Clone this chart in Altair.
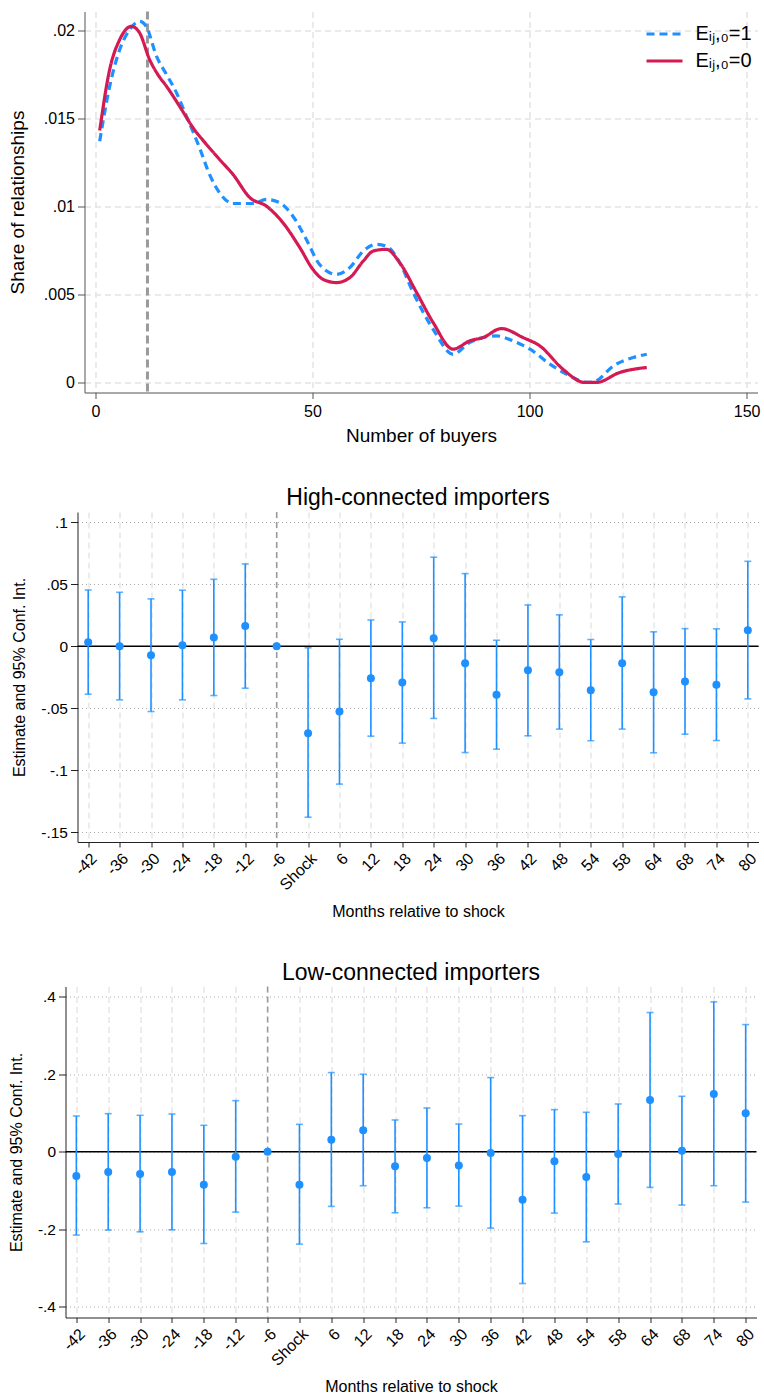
import altair as alt
import pandas as pd

# ---------------- Top panel: share of relationships by number of buyers ----------------
buyers_e1 = [1, 3.3, 5.6, 7.9, 10.2, 11.7, 14.1, 16.4, 18.7, 21, 24, 26.3, 28.6, 31.7, 36.3, 39.4,
             42.5, 45.5, 48.6, 51.6, 55.5, 58.6, 61.7, 64.7, 67, 70.1, 73.2, 77.8, 82.4, 86.2, 92.4,
             96.2, 100.1, 104.7, 108.5, 113.5, 115.4, 119.3, 123.9, 127]
share_e1 = [0.0137, 0.01681, 0.01889, 0.02003, 0.0205, 0.02022, 0.01851, 0.01748, 0.01644, 0.01511,
            0.01332, 0.01181, 0.01077, 0.01016, 0.01016, 0.01039, 0.0102, 0.00944, 0.00812, 0.00671,
            0.00614, 0.00652, 0.00746, 0.00784, 0.00774, 0.0068, 0.0051, 0.00302, 0.0016, 0.00227,
            0.00264, 0.00236, 0.00189, 0.00104, 0.00047, 0.0, 0.0001, 0.00094, 0.00142, 0.0016]

buyers_e0 = [1, 3.3, 5.6, 8.3, 10.2, 12.5, 14.4, 16.4, 19.4, 22.5, 25.6, 28.6, 31.7, 35.6, 39.4,
             43.2, 47.1, 50.1, 52.4, 55.5, 58.6, 61.7, 64, 67, 70.1, 74, 77.8, 82.4, 86.2, 89.3, 93.5,
             98.5, 102.4, 107.7, 112.7, 115.4, 120.8, 127]
share_e0 = [0.0143, 0.01777, 0.01946, 0.02022, 0.01984, 0.01833, 0.01748, 0.01681, 0.01568, 0.01446,
            0.01351, 0.01266, 0.01181, 0.01049, 0.01001, 0.00907, 0.00765, 0.00642, 0.00586, 0.00567,
            0.00595, 0.00689, 0.00746, 0.00756, 0.0068, 0.0051, 0.0034, 0.00189, 0.00236, 0.00255,
            0.00306, 0.00255, 0.00207, 0.00075, 0.0, 0.0, 0.00057, 0.00085]

series_labels = ["E\u1d62\u2c7c,\u2080=1", "E\u1d62\u2c7c,\u2080=0"]
cutoff_buyers = [12]
top_x_ticks = [0, 50, 100, 150]
top_y_ticks = [0, 0.005, 0.01, 0.015, 0.02]

# ---------------- Event-study panels ----------------
months = ["-42", "-36", "-30", "-24", "-18", "-12", "-6", "Shock", "6", "12", "18", "24",
          "30", "36", "42", "48", "54", "58", "64", "68", "74", "80"]
shock_ref = ["-6"]

high_est = [0.0032, 0.0, -0.0073, 0.0008, 0.007, 0.0164, 0.0, -0.0702, -0.0527, -0.0258, -0.0293,
            0.0065, -0.0137, -0.0392, -0.0194, -0.021, -0.0355, -0.0137, -0.0371, -0.0285, -0.0312, 0.0129]
high_hi = [0.0454, 0.0435, 0.0382, 0.0452, 0.054, 0.0664, None, -0.0013, 0.0056, 0.0212, 0.0196,
           0.0718, 0.0586, 0.0048, 0.0333, 0.0253, 0.0054, 0.0398, 0.0116, 0.0142, 0.014, 0.0685]
high_lo = [-0.0387, -0.0433, -0.0527, -0.0433, -0.0398, -0.0339, None, -0.138, -0.1113, -0.0726, -0.0782,
           -0.0583, -0.0858, -0.0831, -0.0723, -0.0669, -0.0763, -0.0669, -0.086, -0.071, -0.0761, -0.0425]

low_est = [-0.0628, -0.0525, -0.0576, -0.0525, -0.0852, -0.0129, 0.0, -0.0852, 0.031, 0.055, -0.0378,
           -0.0163, -0.0353, -0.0034, -0.1239, -0.0249, -0.0654, -0.006, 0.1333, 0.0026, 0.1488, 0.0989]
low_hi = [0.092, 0.098, 0.0938, 0.0972, 0.068, 0.1316, None, 0.0705, 0.2039, 0.1996, 0.0817,
          0.1127, 0.0714, 0.191, 0.0929, 0.1084, 0.1015, 0.123, 0.3587, 0.1428, 0.3862, 0.3277]
low_lo = [-0.215, -0.202, -0.2065, -0.2013, -0.2366, -0.1557, None, -0.2383, -0.141, -0.0877, -0.1574,
          -0.1445, -0.1402, -0.197, -0.3398, -0.1583, -0.2323, -0.135, -0.092, -0.1376, -0.0877, -0.1299]

high_y_ticks = [-0.15, -0.1, -0.05, 0, 0.05, 0.1]
low_y_ticks = [-0.4, -0.2, 0, 0.2, 0.4]

FONT = "Liberation Sans"
BLUE = "#1E90FF"
RED = "#D41A52"
GRAY = "#9a9a9a"

stata_num = ("datum.value == 0 ? '0' : (datum.value < 0 ? '-' : '') + "
             "substring(format(abs(datum.value), ''), 1)")

# ---------------- Top chart ----------------
top_df = pd.concat([
    pd.DataFrame({"buyers": buyers_e1, "share": share_e1, "series": series_labels[0]}),
    pd.DataFrame({"buyers": buyers_e0, "share": share_e0, "series": series_labels[1]}),
], ignore_index=True)

tx = alt.Scale(domain=[-2.5, 152.5], nice=False, zero=False)
ty = alt.Scale(domain=[-0.00057, 0.02106], nice=False, zero=False)

top_grid = dict(grid=True, gridColor="#e4e4e4", gridDash=[6, 4], gridWidth=1.5)

x_top = alt.X("buyers:Q", scale=tx, axis=alt.Axis(
    values=top_x_ticks, title="Number of buyers", format="d", labelFontSize=16,
    titleFontSize=19, tickSize=6, labelPadding=5, titlePadding=7,
    domainColor="#555555", tickColor="#555555", **top_grid))
y_top = alt.Y("share:Q", scale=ty, axis=alt.Axis(
    values=top_y_ticks, title="Share of relationships", labelExpr=stata_num, labelFontSize=16,
    titleFontSize=19, tickSize=7, labelPadding=3, titlePadding=12, titleBaseline="bottom",
    minExtent=45, maxExtent=45,
    domainColor="#555555", tickColor="#555555", **top_grid))

legend_kw = dict(title=None, orient="none", legendX=639, legendY=11.5, symbolType="M-1,0L3,0",
                 symbolSize=324, symbolStrokeWidth=3.2, labelFontSize=20, labelOffset=29,
                 rowPadding=6, padding=0)

cut_rule = alt.Chart(pd.DataFrame({"buyers": cutoff_buyers})).mark_rule(
    color=GRAY, strokeWidth=3, strokeDash=[8, 4]).encode(x=alt.X("buyers:Q", scale=tx))

top_lines = alt.Chart(top_df).mark_line(strokeWidth=3.2, interpolate="monotone").encode(
    x=x_top, y=y_top,
    color=alt.Color("series:N", scale=alt.Scale(domain=series_labels, range=[BLUE, RED]),
                    legend=alt.Legend(**legend_kw)),
    strokeDash=alt.StrokeDash("series:N", scale=alt.Scale(domain=series_labels, range=[[8, 5], [1, 0]]),
                              legend=alt.Legend(**legend_kw)),
)

top = alt.layer(cut_rule, top_lines).properties(width=673, height=381)


# ---------------- Event-study panel builder ----------------
def coef_panel(est, lo, hi, title, ydom, yticks, width, height, ext, tpad):
    df = pd.DataFrame({"month": months, "est": est, "lo": lo, "hi": hi})
    xs = alt.Scale(type="point", domain=months, padding=0.34)
    ys = alt.Scale(domain=ydom, nice=False, zero=False)
    x_enc = alt.X("month:O", scale=xs, sort=months, axis=alt.Axis(
        title="Months relative to shock", labelAngle=-45, labelAlign="right", labelBaseline="top",
        labelFontSize=16, titleFontSize=16, tickSize=5, labelPadding=3, titlePadding=10.5,
        grid=True, gridColor="#e6e6e6", gridDash=[6, 4], gridWidth=1.5,
        domainColor="#222222", tickColor="#222222"))
    y_axis = alt.Axis(values=yticks, title="Estimate and 95% Conf. Int.", labelExpr=stata_num,
                      labelFontSize=15.5, titleFontSize=16, tickSize=7, labelPadding=3, titlePadding=tpad,
                      titleBaseline="bottom", minExtent=ext, maxExtent=ext,
                      grid=True, gridColor="#a8a8a8", gridDash=[1, 3], gridWidth=1,
                      domainColor="#222222", tickColor="#222222")

    ref = alt.Chart(pd.DataFrame({"month": shock_ref})).mark_rule(
        color=GRAY, strokeWidth=1.5, strokeDash=[6, 4]).encode(x=alt.X("month:O", scale=xs, sort=months))
    zero = alt.Chart(pd.DataFrame({"est": [0]})).mark_rule(color="black", strokeWidth=1.5).encode(
        y=alt.Y("est:Q", scale=ys, axis=y_axis))
    base = alt.Chart(df)
    bars = base.mark_rule(color=BLUE, strokeWidth=1.6).encode(
        x=x_enc, y=alt.Y("lo:Q", scale=ys, axis=y_axis), y2="hi:Q")
    cap_lo = base.mark_tick(color=BLUE, thickness=1.6, size=7).encode(
        x=x_enc, y=alt.Y("lo:Q", scale=ys, axis=y_axis))
    cap_hi = base.mark_tick(color=BLUE, thickness=1.6, size=7).encode(
        x=x_enc, y=alt.Y("hi:Q", scale=ys, axis=y_axis))
    pts = base.mark_circle(color=BLUE, size=64, opacity=1).encode(
        x=x_enc, y=alt.Y("est:Q", scale=ys, axis=y_axis))
    return alt.layer(ref, zero, bars, cap_lo, cap_hi, pts).properties(
        width=width, height=height,
        title=alt.TitleParams(title, fontSize=23, fontWeight="normal", anchor="middle", offset=1))


mid = coef_panel(high_est, high_lo, high_hi, "High-connected importers",
                 [-0.158, 0.1083], high_y_ticks, 681, 330, 37, 13)
bot = coef_panel(low_est, low_lo, low_hi, "Low-connected importers",
                 [-0.4274, 0.4258], low_y_ticks, 691, 331, 28, 12.6)


def spacer(w):
    # invisible placeholder that sets the left indent of a row
    return alt.Chart(pd.DataFrame({"v": [0]})).mark_point(opacity=0).encode(
        x=alt.value(0), y=alt.value(0)).properties(width=w, height=1)


rows = [alt.hconcat(spacer(3), top, spacing=0),
        alt.hconcat(spacer(5.7), mid, spacing=0),
        alt.hconcat(spacer(0.2), bot, spacing=0)]

chart = alt.vconcat(*rows, spacing=41.5).properties(
    padding={"left": 2.5, "top": 8.5, "right": 0, "bottom": 2}
).configure(font=FONT).configure_view(stroke=None).configure_axis(
    labelColor="black", titleColor="black", titleFontWeight="normal", labelFont=FONT, titleFont=FONT
).configure_legend(labelFont=FONT, labelColor="black").configure_title(font=FONT, color="black")

chart.save("out.html", embed_options={"renderer": "svg", "actions": False})
